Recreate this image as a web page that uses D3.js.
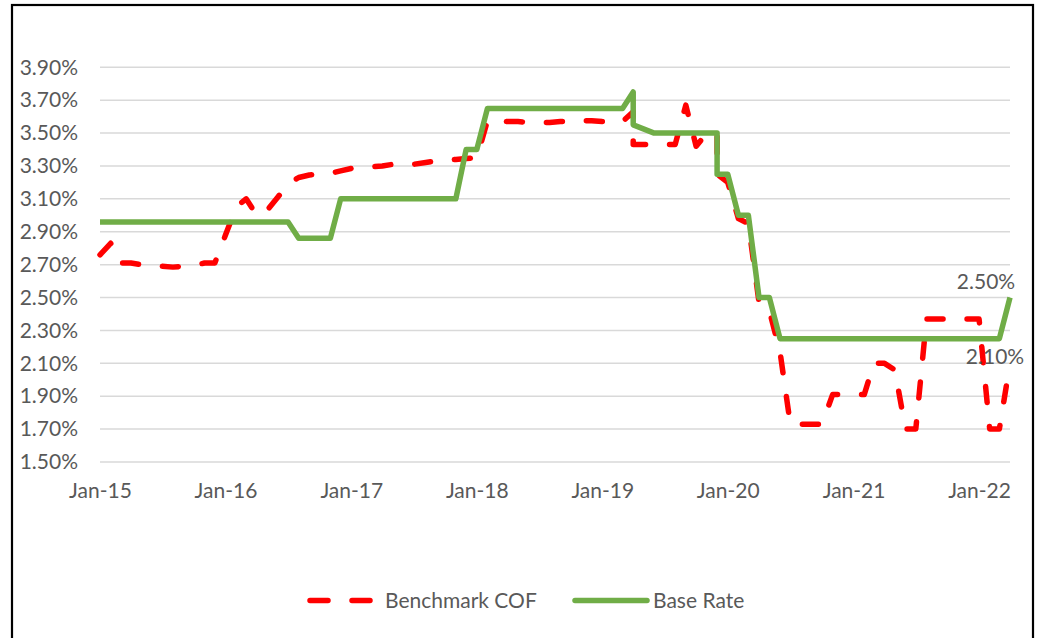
<!DOCTYPE html>
<html>
<head>
<meta charset="utf-8">
<script src="https://cdn.jsdelivr.net/npm/d3@7"></script>
<style>
  html, body { margin: 0; padding: 0; background: #fff; }
  svg { display: block; }
  text { font-family: Lato, "Open Sans", sans-serif; fill: #595959; }
</style>
</head>
<body>
<svg id="chart" width="1042" height="638"></svg>
<script>
// ---- data ----
const cofDates = [
  "2015-01","2015-02","2015-03","2015-04","2015-05","2015-06","2015-07","2015-08","2015-09","2015-10","2015-11","2015-12",
  "2016-01","2016-02","2016-03","2016-04","2016-05","2016-06","2016-07","2016-08","2016-09","2016-10","2016-11","2016-12",
  "2017-01","2017-02","2017-03","2017-04","2017-05","2017-06","2017-07","2017-08","2017-09","2017-10","2017-11","2017-12",
  "2018-01","2018-02","2018-03","2018-04","2018-05","2018-06","2018-07","2018-08","2018-09","2018-10","2018-11","2018-12",
  "2019-01","2019-02","2019-03","2019-04","2019-04","2019-05","2019-06","2019-07","2019-08","2019-09","2019-10","2019-11",
  "2019-12","2019-12","2020-01","2020-02","2020-03","2020-04","2020-05","2020-06","2020-07","2020-08","2020-09","2020-10",
  "2020-11","2020-12","2021-01","2021-02","2021-03","2021-04","2021-05","2021-06","2021-07","2021-08","2021-09","2021-10",
  "2021-11","2021-12","2022-01","2022-02","2022-03","2022-04"
];
const cofValues = [
  2.76,2.83,2.71,2.71,2.70,2.69,2.69,2.685,2.69,2.695,2.71,2.71,
  2.88,3.05,3.10,3.00,3.03,3.11,3.19,3.23,3.245,3.25,3.255,3.27,
  3.285,3.29,3.295,3.30,3.31,3.305,3.31,3.32,3.33,3.335,3.34,3.345,
  3.35,3.575,3.575,3.57,3.57,3.565,3.565,3.565,3.57,3.57,3.575,3.575,
  3.57,3.57,3.57,3.63,3.43,3.43,3.43,3.43,3.43,3.67,3.42,3.50,
  3.50,3.25,3.20,2.98,2.95,2.47,2.42,2.17,1.73,1.73,1.73,1.73,
  1.91,1.91,1.91,1.91,2.10,2.10,2.06,1.70,1.70,2.37,2.37,2.37,
  2.37,2.37,2.37,1.70,1.70,2.10
];
const baseDates = [
  "2015-01","2016-07","2016-08","2016-11","2016-12","2017-11","2017-12","2018-01","2018-02",
  "2019-03","2019-04","2019-04","2019-06","2019-12","2019-12","2020-01","2020-02","2020-03",
  "2020-04","2020-05","2020-06","2022-03","2022-04"
];
const baseValues = [
  2.96,2.96,2.86,2.86,3.10,3.10,3.40,3.40,3.65,
  3.65,3.75,3.55,3.50,3.50,3.25,3.25,3.00,3.00,
  2.50,2.50,2.25,2.25,2.50
];
const yTicks = [1.5,1.7,1.9,2.1,2.3,2.5,2.7,2.9,3.1,3.3,3.5,3.7,3.9];
const xTickDates = ["2015-01","2016-01","2017-01","2018-01","2019-01","2020-01","2021-01","2022-01"];
const seriesNames = ["Benchmark COF","Base Rate"];
const lastLabels = ["2.10%","2.50%"];

// ---- layout ----
const FS = 21;
const svg = d3.select("#chart");
const parse = d3.timeParse("%Y-%m");
const fmtX = d3.timeFormat("%b-%y");
const fmtY = v => v.toFixed(2) + "%";

const x = d3.scaleTime()
  .domain([parse("2015-01"), parse("2022-04")])
  .range([100, 1010]);
const y = d3.scaleLinear().domain([1.5, 3.9]).range([462, 67.3]);

// outer border
svg.append("rect")
  .attr("x", 12).attr("y", 5).attr("width", 1021).attr("height", 660)
  .attr("fill", "none").attr("stroke", "#000").attr("stroke-width", 2.2);

// gridlines
svg.append("g").selectAll("line").data(yTicks).join("line")
  .attr("x1", 100).attr("x2", 1010)
  .attr("y1", d => y(d)).attr("y2", d => y(d))
  .attr("stroke", "#d9d9d9").attr("stroke-width", 1.5);

// y axis labels
const yAxis = d3.axisLeft(y).tickValues(yTicks).tickFormat(fmtY).tickSize(0).tickPadding(0);
const gy = svg.append("g").attr("transform", "translate(78,0)").call(yAxis);
gy.select(".domain").remove();
gy.selectAll("text").attr("font-size", FS).attr("fill", "#595959")
  .style("font-family", "Lato, 'Open Sans', sans-serif");

// x axis labels
const xAxis = d3.axisBottom(x).tickValues(xTickDates.map(parse)).tickFormat(fmtX).tickSize(0).tickPadding(0);
const gx = svg.append("g").attr("transform", "translate(0,483)").call(xAxis);
gx.select(".domain").remove();
gx.selectAll("text").attr("font-size", FS).attr("fill", "#595959")
  .style("font-family", "Lato, 'Open Sans', sans-serif");

// lines
const line = d3.line().x(d => x(d[0])).y(d => y(d[1]));
const cof = cofDates.map((d, i) => [parse(d), cofValues[i]]);
const base = baseDates.map((d, i) => [parse(d), baseValues[i]]);

svg.append("path").datum(cof).attr("d", line)
  .attr("fill", "none").attr("stroke", "#ff0000").attr("stroke-width", 5.5)
  .attr("stroke-dasharray", "16 24").attr("stroke-linecap", "round").attr("stroke-linejoin", "round");
svg.append("path").datum(base).attr("d", line)
  .attr("fill", "none").attr("stroke", "#70ad47").attr("stroke-width", 5.5)
  .attr("stroke-linejoin", "round");

// data labels for last points
const lastCof = cof[cof.length - 1], lastBase = base[base.length - 1];
svg.append("text").attr("x", x(lastBase[0]) - 24).attr("y", y(lastBase[1]) - 9)
  .attr("text-anchor", "middle").attr("font-size", FS).text(lastLabels[1]);
svg.append("text").attr("x", x(lastCof[0]) - 15).attr("y", y(lastCof[1]) + 1)
  .attr("text-anchor", "middle").attr("font-size", FS).text(lastLabels[0]);

// legend
const lg = svg.append("g");
lg.append("line").attr("x1", 310).attr("x2", 372).attr("y1", 600.5).attr("y2", 600.5)
  .attr("stroke", "#ff0000").attr("stroke-width", 5.5)
  .attr("stroke-dasharray", "18 24").attr("stroke-linecap", "round");
lg.append("text").attr("x", 385).attr("y", 608).attr("font-size", FS).text(seriesNames[0]);
lg.append("line").attr("x1", 575).attr("x2", 647).attr("y1", 600.5).attr("y2", 600.5)
  .attr("stroke", "#70ad47").attr("stroke-width", 5.5).attr("stroke-linecap", "round");
lg.append("text").attr("x", 653).attr("y", 608).attr("font-size", FS).text(seriesNames[1]);
</script>
</body>
</html>
